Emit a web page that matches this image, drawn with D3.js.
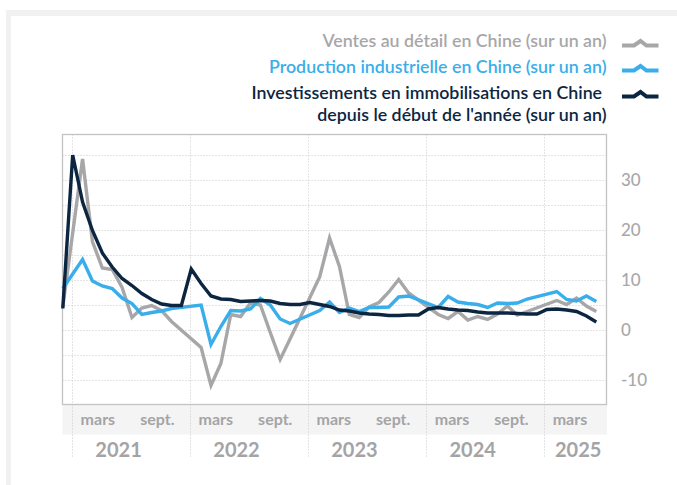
<!DOCTYPE html>
<html><head><meta charset="utf-8">
<script src="https://cdn.jsdelivr.net/npm/d3@7"></script>
<style>
html,body{margin:0;padding:0;background:#fff;}
svg{display:block;font-family:Lato,"Open Sans",sans-serif;}
</style></head><body>
<svg id="chart" width="677" height="485"></svg>
<script>
// Monthly data, Jan 2021 .. Jul 2025 (null = not published / not plotted)
const retailSales = [
  4.6, null, 34.2, 17.7, 12.4, 12.1, 8.5, 2.5, 4.4, 4.9, 3.9, 1.7,
  null, null, -3.5, -11.1, -6.7, 3.1, 2.7, 5.4, 5.0, -0.5, -5.9, -1.8,
  null, null, 10.6, 18.4, 12.7, 3.1, 2.5, 4.6, 5.5, 7.6, 10.1, 7.4,
  null, null, 3.1, 2.3, 3.7, 2.0, 2.7, 2.1, 3.2, 4.8, 3.0, 3.7,
  null, null, 5.9, 5.1, 6.4, 4.8, 3.7
];
const industrialProduction = [
  8.3, null, 14.1, 9.8, 8.8, 8.3, 6.4, 5.3, 3.1, 3.5, 3.8, 4.3,
  null, null, 5.0, -2.9, 0.7, 3.9, 3.8, 4.2, 6.3, 5.0, 2.2, 1.3,
  null, null, 3.9, 5.6, 3.5, 4.4, 3.7, 4.5, 4.5, 4.6, 6.6, 6.8,
  null, null, 4.5, 6.7, 5.6, 5.3, 5.1, 4.5, 5.4, 5.3, 5.4, 6.2,
  null, null, 7.7, 6.1, 5.8, 6.8, 5.7
];
const fixedInvestment = [
  4.3, 35.0, 25.6, 19.9, 15.4, 12.6, 10.3, 8.9, 7.3, 6.1, 5.2, 4.9,
  4.9, 12.2, 9.3, 6.8, 6.2, 6.1, 5.7, 5.8, 5.9, 5.8, 5.3, 5.1,
  5.1, 5.5, 5.1, 4.7, 4.0, 3.8, 3.4, 3.2, 3.1, 2.9, 2.9, 3.0,
  3.0, 4.2, 4.5, 4.2, 4.0, 3.9, 3.6, 3.4, 3.4, 3.4, 3.3, 3.2,
  3.2, 4.1, 4.2, 4.0, 3.7, 2.8, 1.6
];
const yTickValues = [30, 20, 10, 0, -10];
const yGridValues = [-10, -5, 0, 5, 10, 15, 20, 25, 30, 35];
const years = [2021, 2022, 2023, 2024, 2025];
const monthLabels = [{month: 2, label: "mars"}, {month: 8, label: "sept."}];
const seriesNames = [
  ["Ventes au détail en Chine (sur un an)"],
  ["Production industrielle en Chine (sur un an)"],
  ["Investissements en immobilisations en Chine\u00a0", "depuis le début de l'année (sur un an)"]
];
const seriesValues = [retailSales, industrialProduction, fixedInvestment];
const seriesColors = ["#a7a7a9", "#3aaeea", "#0c2641"];

const svg = d3.select("#chart");
const W = 677, H = 485;
const plot = {left: 62.5, right: 606.5, top: 134.5, bottom: 404.5};

// frame
svg.append("rect").attr("x", 0).attr("y", 0).attr("width", W).attr("height", H).attr("fill", "#fff");
svg.append("rect").attr("x", 6).attr("y", 10).attr("width", W - 6).attr("height", 6).attr("fill", "#f1f1f1");
svg.append("rect").attr("x", 6).attr("y", 10).attr("width", 5).attr("height", H - 10).attr("fill", "#f1f1f1");

const y = d3.scaleLinear().domain([-14.9, 39.1]).range([plot.bottom, plot.top]);
const xData = d3.scaleLinear().domain([0, retailSales.length - 1]).range([62.8, 596.3]);
const xTime = d3.scaleTime()
  .domain([new Date(2021, 0, 1), new Date(2025, 0, 1)])
  .range([71.7, 543.8]);

// band under the plot
svg.append("rect").attr("x", plot.left).attr("y", plot.bottom).attr("width", plot.right - plot.left + 0.5)
  .attr("height", 30).attr("fill", "#f4f4f4");

// horizontal grid
svg.append("g").selectAll("line").data(yGridValues).join("line")
  .attr("x1", plot.left).attr("x2", plot.right)
  .attr("y1", d => Math.round(y(d)) + 0.5).attr("y2", d => Math.round(y(d)) + 0.5)
  .attr("stroke", "#c9c9c9").attr("stroke-width", 1).attr("stroke-dasharray", "1,2");

// vertical year lines
svg.append("g").selectAll("line").data(years).join("line")
  .attr("x1", d => Math.round(xTime(new Date(d, 0, 1))) + 0.5)
  .attr("x2", d => Math.round(xTime(new Date(d, 0, 1))) + 0.5)
  .attr("y1", plot.top).attr("y2", 457)
  .attr("stroke", "#c9c9c9").attr("stroke-width", 1).attr("stroke-dasharray", "1,2");

// plot border
svg.append("rect").attr("x", plot.left).attr("y", plot.top)
  .attr("width", plot.right - plot.left).attr("height", plot.bottom - plot.top)
  .attr("fill", "none").attr("stroke", "#c3c3c3").attr("stroke-width", 1.3);

// y axis labels (right)
svg.append("g").selectAll("text").data(yTickValues).join("text")
  .attr("x", 621).attr("y", d => y(d) + 6)
  .attr("fill", "#a8a8aa").attr("font-size", "17px").attr("font-weight", 500)
  .text(d => d);

// month labels
const monthItems = years.flatMap(yr => monthLabels
  .filter(m => new Date(yr, m.month, 1) <= new Date(2025, 6, 1))
  .map(m => ({date: new Date(yr, m.month, 23), label: m.label})));
svg.append("g").selectAll("text").data(monthItems).join("text")
  .attr("x", d => xTime(d.date)).attr("y", 425)
  .attr("text-anchor", "middle").attr("fill", "#a4a4a6")
  .attr("font-size", "16px").attr("font-weight", 700)
  .text(d => d.label);

// year labels
svg.append("g").selectAll("text").data(years).join("text")
  .attr("x", d => Math.min(xTime(new Date(d, 4, 26)), (xTime(new Date(d, 0, 1)) + plot.right) / 2 + 3))
  .attr("y", 457).attr("text-anchor", "middle").attr("fill", "#a4a4a6")
  .attr("font-size", "20px").attr("font-weight", 700)
  .text(d => d);

// series lines
const line = d3.line().x(d => xData(d.i)).y(d => y(d.v));
seriesValues.forEach((vals, k) => {
  const pts = vals.map((v, i) => ({i, v})).filter(d => d.v !== null);
  svg.append("path").datum(pts)
    .attr("d", line).attr("fill", "none")
    .attr("stroke", seriesColors[k]).attr("stroke-width", 3.4)
    .attr("stroke-linejoin", "miter").attr("stroke-miterlimit", 6);
});

// legend
const legendBaselines = [[46.7], [72.7], [99.3, 120.7]];
const iconY = [45.5, 70.5, 96.5];
const iconShape = [[0, 0], [12, 0], [18.5, -4.5], [24.5, 0], [36.5, 0]];
const iconLine = d3.line().x(d => 622 + d[0]).y(d => d[1]);
seriesNames.forEach((lines, k) => {
  lines.forEach((t, j) => {
    svg.append("text").attr("x", 606.5).attr("y", legendBaselines[k][j])
      .attr("text-anchor", "end").attr("fill", seriesColors[k])
      .attr("font-size", "17.8px").attr("font-weight", 600)
      .text(t);
  });
  svg.append("path").datum(iconShape.map(p => [p[0], p[1] + iconY[k]]))
    .attr("d", iconLine).attr("fill", "none").attr("stroke", seriesColors[k])
    .attr("stroke-width", 4);
});
</script>
</body></html>
